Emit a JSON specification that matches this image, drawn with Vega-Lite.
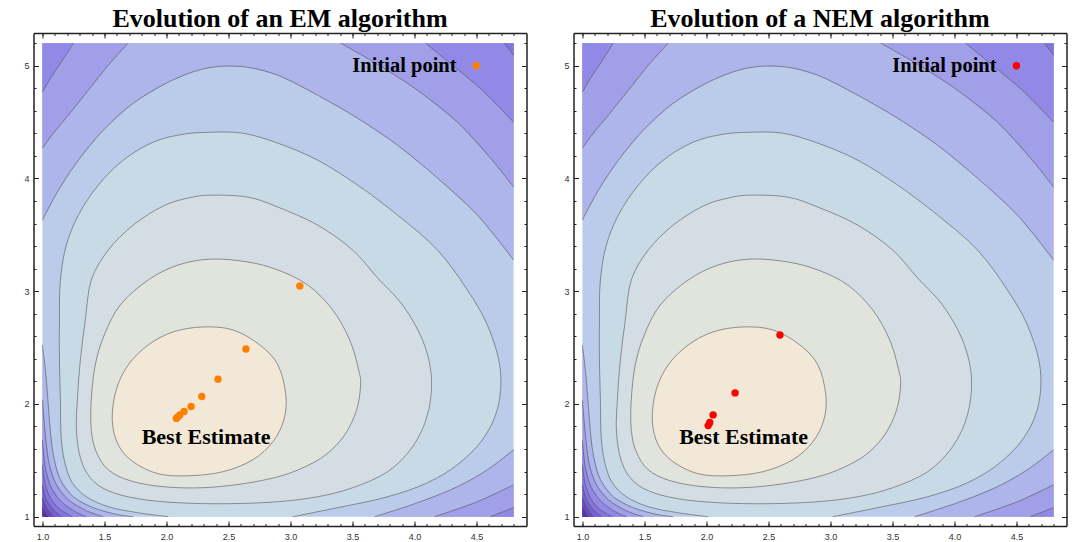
{
"$schema": "https://vega.github.io/schema/vega-lite/v6.json",
"padding": {"left": 23.5, "top": 6, "right": 0, "bottom": 0},
"background": "white",
"spacing": 36,
"config": {"view": {"stroke": null}, "axis": {"grid": false, "labelFlush": false, "title": null}},
"datasets": {
"cont": [
{"p":"00","i":0,"x":1,"y":1,"lv":4,"c":0},{"p":"00","i":1,"x":4.8,"y":1,"lv":4,"c":0},{"p":"00","i":2,"x":4.8,"y":5.2,"lv":4,"c":0},{"p":"00","i":3,"x":1,"y":5.2,"lv":4,"c":0},
{"p":"01","i":0,"x":2.014,"y":1.0,"lv":3,"c":1},{"p":"01","i":1,"x":1.772,"y":1.035,"lv":3,"c":1},{"p":"01","i":2,"x":1.531,"y":1.089,"lv":3,"c":1},{"p":"01","i":3,"x":1.354,"y":1.177,"lv":3,"c":1},{"p":"01","i":4,"x":1.241,"y":1.301,"lv":3,"c":1},{"p":"01","i":5,"x":1.185,"y":1.461,"lv":3,"c":1},{"p":"01","i":6,"x":1.153,"y":1.682,"lv":3,"c":1},{"p":"01","i":7,"x":1.145,"y":2.036,"lv":3,"c":1},{"p":"01","i":8,"x":1.137,"y":2.391,"lv":3,"c":1},{"p":"01","i":9,"x":1.137,"y":2.745,"lv":3,"c":1},{"p":"01","i":10,"x":1.145,"y":3.099,"lv":3,"c":1},{"p":"01","i":11,"x":1.193,"y":3.409,"lv":3,"c":1},{"p":"01","i":12,"x":1.29,"y":3.675,"lv":3,"c":1},{"p":"01","i":13,"x":1.451,"y":3.941,"lv":3,"c":1},{"p":"01","i":14,"x":1.652,"y":4.162,"lv":3,"c":1},{"p":"01","i":15,"x":1.893,"y":4.322,"lv":3,"c":1},{"p":"01","i":16,"x":2.134,"y":4.392,"lv":3,"c":1},{"p":"01","i":17,"x":2.36,"y":4.41,"lv":3,"c":1},{"p":"01","i":18,"x":2.617,"y":4.401,"lv":3,"c":1},{"p":"01","i":19,"x":2.899,"y":4.313,"lv":3,"c":1},{"p":"01","i":20,"x":3.22,"y":4.162,"lv":3,"c":1},{"p":"01","i":21,"x":3.542,"y":3.941,"lv":3,"c":1},{"p":"01","i":22,"x":3.864,"y":3.675,"lv":3,"c":1},{"p":"01","i":23,"x":4.186,"y":3.365,"lv":3,"c":1},{"p":"01","i":24,"x":4.427,"y":3.011,"lv":3,"c":1},{"p":"01","i":25,"x":4.588,"y":2.701,"lv":3,"c":1},{"p":"01","i":26,"x":4.693,"y":2.302,"lv":3,"c":1},{"p":"01","i":27,"x":4.668,"y":1.948,"lv":3,"c":1},{"p":"01","i":28,"x":4.548,"y":1.682,"lv":3,"c":1},{"p":"01","i":29,"x":4.347,"y":1.461,"lv":3,"c":1},{"p":"01","i":30,"x":4.105,"y":1.301,"lv":3,"c":1},{"p":"01","i":31,"x":3.784,"y":1.177,"lv":3,"c":1},{"p":"01","i":32,"x":3.381,"y":1.08,"lv":3,"c":1},{"p":"01","i":33,"x":3.019,"y":1.0,"lv":3,"c":1},
{"p":"02","i":0,"x":2.36,"y":3.852,"lv":2,"c":1},{"p":"02","i":1,"x":2.657,"y":3.834,"lv":2,"c":1},{"p":"02","i":2,"x":2.899,"y":3.746,"lv":2,"c":1},{"p":"02","i":3,"x":3.22,"y":3.586,"lv":2,"c":1},{"p":"02","i":4,"x":3.502,"y":3.365,"lv":2,"c":1},{"p":"02","i":5,"x":3.703,"y":3.117,"lv":2,"c":1},{"p":"02","i":6,"x":3.904,"y":2.878,"lv":2,"c":1},{"p":"02","i":7,"x":4.065,"y":2.568,"lv":2,"c":1},{"p":"02","i":8,"x":4.137,"y":2.24,"lv":2,"c":1},{"p":"02","i":9,"x":4.105,"y":1.903,"lv":2,"c":1},{"p":"02","i":10,"x":3.985,"y":1.62,"lv":2,"c":1},{"p":"02","i":11,"x":3.784,"y":1.399,"lv":2,"c":1},{"p":"02","i":12,"x":3.502,"y":1.257,"lv":2,"c":1},{"p":"02","i":13,"x":3.22,"y":1.177,"lv":2,"c":1},{"p":"02","i":14,"x":2.899,"y":1.133,"lv":2,"c":1},{"p":"02","i":15,"x":2.496,"y":1.115,"lv":2,"c":1},{"p":"02","i":16,"x":2.094,"y":1.124,"lv":2,"c":1},{"p":"02","i":17,"x":1.772,"y":1.159,"lv":2,"c":1},{"p":"02","i":18,"x":1.531,"y":1.23,"lv":2,"c":1},{"p":"02","i":19,"x":1.386,"y":1.345,"lv":2,"c":1},{"p":"02","i":20,"x":1.306,"y":1.523,"lv":2,"c":1},{"p":"02","i":21,"x":1.274,"y":1.771,"lv":2,"c":1},{"p":"02","i":22,"x":1.282,"y":2.036,"lv":2,"c":1},{"p":"02","i":23,"x":1.306,"y":2.391,"lv":2,"c":1},{"p":"02","i":24,"x":1.346,"y":2.745,"lv":2,"c":1},{"p":"02","i":25,"x":1.394,"y":3.099,"lv":2,"c":1},{"p":"02","i":26,"x":1.531,"y":3.365,"lv":2,"c":1},{"p":"02","i":27,"x":1.732,"y":3.586,"lv":2,"c":1},{"p":"02","i":28,"x":1.973,"y":3.755,"lv":2,"c":1},{"p":"02","i":29,"x":2.175,"y":3.826,"lv":2,"c":1},
{"p":"03","i":0,"x":2.36,"y":3.285,"lv":1,"c":1},{"p":"03","i":1,"x":2.657,"y":3.259,"lv":1,"c":1},{"p":"03","i":2,"x":2.899,"y":3.188,"lv":1,"c":1},{"p":"03","i":3,"x":3.14,"y":3.055,"lv":1,"c":1},{"p":"03","i":4,"x":3.341,"y":2.834,"lv":1,"c":1},{"p":"03","i":5,"x":3.478,"y":2.568,"lv":1,"c":1},{"p":"03","i":6,"x":3.55,"y":2.302,"lv":1,"c":1},{"p":"03","i":7,"x":3.566,"y":2.169,"lv":1,"c":1},{"p":"03","i":8,"x":3.534,"y":1.948,"lv":1,"c":1},{"p":"03","i":9,"x":3.438,"y":1.726,"lv":1,"c":1},{"p":"03","i":10,"x":3.285,"y":1.549,"lv":1,"c":1},{"p":"03","i":11,"x":3.1,"y":1.434,"lv":1,"c":1},{"p":"03","i":12,"x":2.899,"y":1.354,"lv":1,"c":1},{"p":"03","i":13,"x":2.617,"y":1.292,"lv":1,"c":1},{"p":"03","i":14,"x":2.295,"y":1.257,"lv":1,"c":1},{"p":"03","i":15,"x":1.973,"y":1.266,"lv":1,"c":1},{"p":"03","i":16,"x":1.708,"y":1.319,"lv":1,"c":1},{"p":"03","i":17,"x":1.531,"y":1.416,"lv":1,"c":1},{"p":"03","i":18,"x":1.434,"y":1.576,"lv":1,"c":1},{"p":"03","i":19,"x":1.394,"y":1.771,"lv":1,"c":1},{"p":"03","i":20,"x":1.394,"y":2.036,"lv":1,"c":1},{"p":"03","i":21,"x":1.426,"y":2.346,"lv":1,"c":1},{"p":"03","i":22,"x":1.499,"y":2.612,"lv":1,"c":1},{"p":"03","i":23,"x":1.628,"y":2.878,"lv":1,"c":1},{"p":"03","i":24,"x":1.853,"y":3.099,"lv":1,"c":1},{"p":"03","i":25,"x":2.094,"y":3.232,"lv":1,"c":1},
{"p":"04","i":0,"x":1.563,"y":1.859,"lv":0,"c":1},{"p":"04","i":1,"x":1.595,"y":2.125,"lv":0,"c":1},{"p":"04","i":2,"x":1.692,"y":2.346,"lv":0,"c":1},{"p":"04","i":3,"x":1.853,"y":2.523,"lv":0,"c":1},{"p":"04","i":4,"x":2.054,"y":2.639,"lv":0,"c":1},{"p":"04","i":5,"x":2.295,"y":2.683,"lv":0,"c":1},{"p":"04","i":6,"x":2.537,"y":2.656,"lv":0,"c":1},{"p":"04","i":7,"x":2.754,"y":2.523,"lv":0,"c":1},{"p":"04","i":8,"x":2.899,"y":2.346,"lv":0,"c":1},{"p":"04","i":9,"x":2.963,"y":2.081,"lv":0,"c":1},{"p":"04","i":10,"x":2.947,"y":1.859,"lv":0,"c":1},{"p":"04","i":11,"x":2.858,"y":1.664,"lv":0,"c":1},{"p":"04","i":12,"x":2.697,"y":1.505,"lv":0,"c":1},{"p":"04","i":13,"x":2.456,"y":1.399,"lv":0,"c":1},{"p":"04","i":14,"x":2.175,"y":1.363,"lv":0,"c":1},{"p":"04","i":15,"x":1.933,"y":1.381,"lv":0,"c":1},{"p":"04","i":16,"x":1.732,"y":1.487,"lv":0,"c":1},{"p":"04","i":17,"x":1.611,"y":1.638,"lv":0,"c":1},
{"p":"05","i":0,"x":1.0,"y":3.631,"lv":5,"c":1},{"p":"05","i":1,"x":1.129,"y":3.896,"lv":5,"c":1},{"p":"05","i":2,"x":1.29,"y":4.162,"lv":5,"c":1},{"p":"05","i":3,"x":1.491,"y":4.428,"lv":5,"c":1},{"p":"05","i":4,"x":1.732,"y":4.667,"lv":5,"c":1},{"p":"05","i":5,"x":2.014,"y":4.853,"lv":5,"c":1},{"p":"05","i":6,"x":2.255,"y":4.959,"lv":5,"c":1},{"p":"05","i":7,"x":2.44,"y":4.995,"lv":5,"c":1},{"p":"05","i":8,"x":2.657,"y":4.986,"lv":5,"c":1},{"p":"05","i":9,"x":2.899,"y":4.915,"lv":5,"c":1},{"p":"05","i":10,"x":3.22,"y":4.738,"lv":5,"c":1},{"p":"05","i":11,"x":3.542,"y":4.534,"lv":5,"c":1},{"p":"05","i":12,"x":3.864,"y":4.295,"lv":5,"c":1},{"p":"05","i":13,"x":4.186,"y":4.003,"lv":5,"c":1},{"p":"05","i":14,"x":4.508,"y":3.675,"lv":5,"c":1},{"p":"05","i":15,"x":4.8,"y":3.276,"lv":5,"c":1},{"p":"05","i":16,"x":4.8,"y":5.2,"lv":5,"c":0},{"p":"05","i":17,"x":1.0,"y":5.2,"lv":5,"c":0},
{"p":"06","i":0,"x":4.8,"y":1.593,"lv":5,"c":1},{"p":"06","i":1,"x":4.588,"y":1.416,"lv":5,"c":1},{"p":"06","i":2,"x":4.347,"y":1.266,"lv":5,"c":1},{"p":"06","i":3,"x":4.025,"y":1.124,"lv":5,"c":1},{"p":"06","i":4,"x":3.679,"y":1.0,"lv":5,"c":1},{"p":"06","i":5,"x":4.8,"y":1.0,"lv":5,"c":0},
{"p":"07","i":0,"x":1.0,"y":2.523,"lv":5,"c":1},{"p":"07","i":1,"x":1.032,"y":2.213,"lv":5,"c":1},{"p":"07","i":2,"x":1.056,"y":1.859,"lv":5,"c":1},{"p":"07","i":3,"x":1.088,"y":1.549,"lv":5,"c":1},{"p":"07","i":4,"x":1.145,"y":1.328,"lv":5,"c":1},{"p":"07","i":5,"x":1.249,"y":1.177,"lv":5,"c":1},{"p":"07","i":6,"x":1.41,"y":1.08,"lv":5,"c":1},{"p":"07","i":7,"x":1.611,"y":1.018,"lv":5,"c":1},{"p":"07","i":8,"x":1.732,"y":1.0,"lv":5,"c":1},{"p":"07","i":9,"x":1.0,"y":1.0,"lv":5,"c":0},
{"p":"08","i":0,"x":1.692,"y":5.2,"lv":6,"c":1},{"p":"08","i":1,"x":1.531,"y":5.004,"lv":6,"c":1},{"p":"08","i":2,"x":1.37,"y":4.782,"lv":6,"c":1},{"p":"08","i":3,"x":1.209,"y":4.561,"lv":6,"c":1},{"p":"08","i":4,"x":1.088,"y":4.401,"lv":6,"c":1},{"p":"08","i":5,"x":1.0,"y":4.268,"lv":6,"c":1},{"p":"08","i":6,"x":1.0,"y":5.2,"lv":6,"c":0},
{"p":"09","i":0,"x":3.405,"y":5.2,"lv":6,"c":1},{"p":"09","i":1,"x":3.703,"y":5.012,"lv":6,"c":1},{"p":"09","i":2,"x":4.025,"y":4.782,"lv":6,"c":1},{"p":"09","i":3,"x":4.347,"y":4.499,"lv":6,"c":1},{"p":"09","i":4,"x":4.628,"y":4.162,"lv":6,"c":1},{"p":"09","i":5,"x":4.8,"y":3.923,"lv":6,"c":1},{"p":"09","i":6,"x":4.8,"y":5.2,"lv":6,"c":0},
{"p":"10","i":0,"x":4.8,"y":1.283,"lv":6,"c":1},{"p":"10","i":1,"x":4.508,"y":1.133,"lv":6,"c":1},{"p":"10","i":2,"x":4.162,"y":1.0,"lv":6,"c":1},{"p":"10","i":3,"x":4.8,"y":1.0,"lv":6,"c":0},
{"p":"11","i":0,"x":1.0,"y":2.036,"lv":6,"c":1},{"p":"11","i":1,"x":1.024,"y":1.726,"lv":6,"c":1},{"p":"11","i":2,"x":1.056,"y":1.461,"lv":6,"c":1},{"p":"11","i":3,"x":1.113,"y":1.283,"lv":6,"c":1},{"p":"11","i":4,"x":1.209,"y":1.151,"lv":6,"c":1},{"p":"11","i":5,"x":1.354,"y":1.053,"lv":6,"c":1},{"p":"11","i":6,"x":1.491,"y":1.0,"lv":6,"c":1},{"p":"11","i":7,"x":1.0,"y":1.0,"lv":6,"c":0},
{"p":"12","i":0,"x":1.249,"y":5.2,"lv":7,"c":1},{"p":"12","i":1,"x":1.145,"y":5.021,"lv":7,"c":1},{"p":"12","i":2,"x":1.064,"y":4.888,"lv":7,"c":1},{"p":"12","i":3,"x":1.0,"y":4.764,"lv":7,"c":1},{"p":"12","i":4,"x":1.0,"y":5.2,"lv":7,"c":0},
{"p":"13","i":0,"x":4.089,"y":5.2,"lv":7,"c":1},{"p":"13","i":1,"x":4.307,"y":5.004,"lv":7,"c":1},{"p":"13","i":2,"x":4.548,"y":4.782,"lv":7,"c":1},{"p":"13","i":3,"x":4.8,"y":4.499,"lv":7,"c":1},{"p":"13","i":4,"x":4.8,"y":5.2,"lv":7,"c":0},
{"p":"14","i":0,"x":4.8,"y":1.08,"lv":7,"c":1},{"p":"14","i":1,"x":4.612,"y":1.0,"lv":7,"c":1},{"p":"14","i":2,"x":4.8,"y":1.0,"lv":7,"c":0},
{"p":"15","i":0,"x":1.0,"y":1.682,"lv":7,"c":1},{"p":"15","i":1,"x":1.024,"y":1.434,"lv":7,"c":1},{"p":"15","i":2,"x":1.072,"y":1.257,"lv":7,"c":1},{"p":"15","i":3,"x":1.153,"y":1.133,"lv":7,"c":1},{"p":"15","i":4,"x":1.265,"y":1.044,"lv":7,"c":1},{"p":"15","i":5,"x":1.354,"y":1.0,"lv":7,"c":1},{"p":"15","i":6,"x":1.0,"y":1.0,"lv":7,"c":0},
{"p":"16","i":0,"x":4.725,"y":5.2,"lv":8,"c":1},{"p":"16","i":1,"x":4.8,"y":5.092,"lv":8,"c":1},{"p":"16","i":2,"x":4.8,"y":5.2,"lv":8,"c":0},
{"p":"17","i":0,"x":1.0,"y":1.461,"lv":8,"c":1},{"p":"17","i":1,"x":1.024,"y":1.283,"lv":8,"c":1},{"p":"17","i":2,"x":1.072,"y":1.151,"lv":8,"c":1},{"p":"17","i":3,"x":1.145,"y":1.062,"lv":8,"c":1},{"p":"17","i":4,"x":1.241,"y":1.0,"lv":8,"c":1},{"p":"17","i":5,"x":1.0,"y":1.0,"lv":8,"c":0},
{"p":"18","i":0,"x":1.0,"y":1.283,"lv":9,"c":1},{"p":"18","i":1,"x":1.032,"y":1.151,"lv":9,"c":1},{"p":"18","i":2,"x":1.088,"y":1.062,"lv":9,"c":1},{"p":"18","i":3,"x":1.153,"y":1.0,"lv":9,"c":1},{"p":"18","i":4,"x":1.0,"y":1.0,"lv":9,"c":0},
{"p":"19","i":0,"x":1.0,"y":1.168,"lv":10,"c":1},{"p":"19","i":1,"x":1.032,"y":1.08,"lv":10,"c":1},{"p":"19","i":2,"x":1.088,"y":1.0,"lv":10,"c":1},{"p":"19","i":3,"x":1.0,"y":1.0,"lv":10,"c":0},
{"p":"20","i":0,"x":1.0,"y":1.08,"lv":11,"c":1},{"p":"20","i":1,"x":1.024,"y":1.035,"lv":11,"c":1},{"p":"20","i":2,"x":1.048,"y":1.0,"lv":11,"c":1},{"p":"20","i":3,"x":1.0,"y":1.0,"lv":11,"c":0}
],
"em": [{"x":4.5,"y":5.0},{"x":3.076,"y":3.046},{"x":2.641,"y":2.488},{"x":2.416,"y":2.22},{"x":2.285,"y":2.066},{"x":2.199,"y":1.977},{"x":2.142,"y":1.933},{"x":2.108,"y":1.903},{"x":2.089,"y":1.883},{"x":2.08,"y":1.872}],
"nem": [{"x":4.5,"y":5.0},{"x":2.593,"y":2.612},{"x":2.231,"y":2.098},{"x":2.054,"y":1.903},{"x":2.027,"y":1.835},{"x":2.014,"y":1.808}],
"labA": [{"t":"Initial point","x":4.34,"y":5.0,"k":"i"},{"t":"Best Estimate","x":2.32,"y":1.71,"k":"b"}],
"labB": [{"t":"Initial point","x":4.34,"y":5.0,"k":"i"},{"t":"Best Estimate","x":2.30,"y":1.71,"k":"b"}]
},
"hconcat": [
{
"width": 493, "height": 493,
"title": {"text": "Evolution of an EM algorithm", "font": "Liberation Serif", "fontSize": 26, "fontWeight": "bold", "color": "black", "offset": 0.5},
"resolve": {"axis": {"x": "independent", "y": "independent"}},
"layer": [
{"data": {"name": "cont"}, "transform": [{"filter": "datum.p == '00' || datum.lv >= 5"}], "mark": {"type": "line", "filled": true, "strokeWidth": 0, "interpolate": "linear"},
 "encoding": {
  "x": {"field": "x", "type": "quantitative", "scale": {"domain": [0.928, 4.904], "nice": false, "zero": false}, "axis": {"orient": "bottom", "values": [1,1.5,2,2.5,3,3.5,4,4.5], "format": ".1f", "tickSize": -5, "labelPadding": 11, "domainColor": "#222", "domainWidth": 1.5, "tickColor": "#222", "tickWidth": 1, "labelFont": "Liberation Sans", "labelFontSize": 9, "labelColor": "#333"}},
  "y": {"field": "y", "type": "quantitative", "scale": {"domain": [0.9175, 5.29], "nice": false, "zero": false}, "axis": {"orient": "left", "values": [1,2,3,4,5], "format": "d", "tickSize": -5, "labelPadding": 9.5, "domainColor": "#222", "domainWidth": 1.5, "tickColor": "#222", "tickWidth": 1, "labelFont": "Liberation Sans", "labelFontSize": 9, "labelColor": "#333"}},
  "color": {"field": "lv", "type": "ordinal", "scale": {"domain": [0,1,2,3,4,5,6,7,8,9,10,11], "range": ["#F2E8D8","#E1E3DD","#D5DDE4","#C9DAE7","#BBCBEA","#ADB5EA","#A09FE8","#9289E6","#8474DE","#765FD2","#6648C0","#5330AA"]}, "legend": null},
  "detail": {"field": "p"},
  "order": {"field": "i", "type": "quantitative"}
 }},
{"data": {"name": "cont"}, "transform": [{"filter": "datum.p == '01'"}], "mark": {"type": "line", "filled": true, "strokeWidth": 0, "interpolate": "catmull-rom"},
 "encoding": {
  "x": {"field": "x", "type": "quantitative", "axis": {"orient": "bottom", "values": [1,1.1,1.2,1.3,1.4,1.5,1.6,1.7,1.8,1.9,2,2.1,2.2,2.3,2.4,2.5,2.6,2.7,2.8,2.9,3,3.1,3.2,3.3,3.4,3.5,3.6,3.7,3.8,3.9,4,4.1,4.2,4.3,4.4,4.5,4.6,4.7,4.8], "tickSize": -2.5, "labels": false, "domain": false, "tickColor": "#222", "tickWidth": 1}},
  "y": {"field": "y", "type": "quantitative", "axis": {"orient": "left", "values": [1,1.2,1.4,1.6,1.8,2,2.2,2.4,2.6,2.8,3,3.2,3.4,3.6,3.8,4,4.2,4.4,4.6,4.8,5,5.2], "tickSize": -2.5, "labels": false, "domain": false, "tickColor": "#222", "tickWidth": 1}},
  "color": {"field": "lv", "type": "ordinal", "legend": null},
  "detail": {"field": "p"},
  "order": {"field": "i", "type": "quantitative"}
 }},
{"data": {"name": "cont"}, "transform": [{"filter": "datum.p == '02' || datum.p == '03' || datum.p == '04'"}], "mark": {"type": "line", "filled": true, "strokeWidth": 0, "interpolate": "cardinal-closed", "tension": 0},
 "encoding": {
  "x": {"field": "x", "type": "quantitative", "axis": {"orient": "top", "values": [1,1.5,2,2.5,3,3.5,4,4.5], "tickSize": -5, "labels": false, "domainColor": "#222", "domainWidth": 1.5, "tickColor": "#222", "tickWidth": 1}},
  "y": {"field": "y", "type": "quantitative", "axis": {"orient": "right", "values": [1,2,3,4,5], "tickSize": -5, "labels": false, "domainColor": "#222", "domainWidth": 1.5, "tickColor": "#222", "tickWidth": 1}},
  "color": {"field": "lv", "type": "ordinal", "legend": null},
  "detail": {"field": "p"},
  "order": {"field": "i", "type": "quantitative"}
 }},
{"data": {"name": "cont"}, "transform": [{"filter": "datum.p == '02' || datum.p == '03' || datum.p == '04'"}], "mark": {"type": "line", "stroke": "#555", "strokeWidth": 1, "opacity": 0.6, "interpolate": "cardinal-closed", "tension": 0},
 "encoding": {
  "x": {"field": "x", "type": "quantitative", "axis": {"orient": "top", "values": [1,1.1,1.2,1.3,1.4,1.5,1.6,1.7,1.8,1.9,2,2.1,2.2,2.3,2.4,2.5,2.6,2.7,2.8,2.9,3,3.1,3.2,3.3,3.4,3.5,3.6,3.7,3.8,3.9,4,4.1,4.2,4.3,4.4,4.5,4.6,4.7,4.8], "tickSize": -2.5, "labels": false, "domain": false, "tickColor": "#222", "tickWidth": 1}},
  "y": {"field": "y", "type": "quantitative", "axis": {"orient": "right", "values": [1,1.2,1.4,1.6,1.8,2,2.2,2.4,2.6,2.8,3,3.2,3.4,3.6,3.8,4,4.2,4.4,4.6,4.8,5,5.2], "tickSize": -2.5, "labels": false, "domain": false, "tickColor": "#222", "tickWidth": 1}},
  "detail": {"field": "p"},
  "order": {"field": "i", "type": "quantitative"}
 }},
{"data": {"name": "cont"}, "transform": [{"filter": "datum.c == 1 && (datum.p == '01' || datum.lv >= 5)"}], "mark": {"type": "line", "stroke": "#555", "strokeWidth": 1, "opacity": 0.6, "interpolate": "catmull-rom"},
 "encoding": {
  "x": {"field": "x", "type": "quantitative", "axis": null},
  "y": {"field": "y", "type": "quantitative", "axis": null},
  "detail": {"field": "p"},
  "order": {"field": "i", "type": "quantitative"}
 }},
{"data": {"name": "em"}, "mark": {"type": "circle", "size": 55, "color": "#ff8000", "opacity": 1},
 "encoding": {
  "x": {"field": "x", "type": "quantitative", "axis": null},
  "y": {"field": "y", "type": "quantitative", "axis": null}
 }},
{"data": {"name": "labA"}, "transform": [{"filter": "datum.k == 'i'"}], "mark": {"type": "text", "align": "right", "baseline": "middle", "font": "Liberation Serif", "fontSize": 20.5, "fontWeight": "bold", "color": "black"},
 "encoding": {
  "x": {"field": "x", "type": "quantitative", "axis": null},
  "y": {"field": "y", "type": "quantitative", "axis": null},
  "text": {"field": "t"}
 }},
{"data": {"name": "labA"}, "transform": [{"filter": "datum.k == 'b'"}], "mark": {"type": "text", "align": "center", "baseline": "middle", "font": "Liberation Serif", "fontSize": 22, "fontWeight": "bold", "color": "black"},
 "encoding": {
  "x": {"field": "x", "type": "quantitative", "axis": null},
  "y": {"field": "y", "type": "quantitative", "axis": null},
  "text": {"field": "t"}
 }}
]
},
{
"width": 493, "height": 493,
"title": {"text": "Evolution of a NEM algorithm", "font": "Liberation Serif", "fontSize": 26, "fontWeight": "bold", "color": "black", "offset": 0.5},
"resolve": {"axis": {"x": "independent", "y": "independent"}},
"layer": [
{"data": {"name": "cont"}, "transform": [{"filter": "datum.p == '00' || datum.lv >= 5"}], "mark": {"type": "line", "filled": true, "strokeWidth": 0, "interpolate": "linear"},
 "encoding": {
  "x": {"field": "x", "type": "quantitative", "scale": {"domain": [0.928, 4.904], "nice": false, "zero": false}, "axis": {"orient": "bottom", "values": [1,1.5,2,2.5,3,3.5,4,4.5], "format": ".1f", "tickSize": -5, "labelPadding": 11, "domainColor": "#222", "domainWidth": 1.5, "tickColor": "#222", "tickWidth": 1, "labelFont": "Liberation Sans", "labelFontSize": 9, "labelColor": "#333"}},
  "y": {"field": "y", "type": "quantitative", "scale": {"domain": [0.9175, 5.29], "nice": false, "zero": false}, "axis": {"orient": "left", "values": [1,2,3,4,5], "format": "d", "tickSize": -5, "labelPadding": 9.5, "domainColor": "#222", "domainWidth": 1.5, "tickColor": "#222", "tickWidth": 1, "labelFont": "Liberation Sans", "labelFontSize": 9, "labelColor": "#333"}},
  "color": {"field": "lv", "type": "ordinal", "scale": {"domain": [0,1,2,3,4,5,6,7,8,9,10,11], "range": ["#F2E8D8","#E1E3DD","#D5DDE4","#C9DAE7","#BBCBEA","#ADB5EA","#A09FE8","#9289E6","#8474DE","#765FD2","#6648C0","#5330AA"]}, "legend": null},
  "detail": {"field": "p"},
  "order": {"field": "i", "type": "quantitative"}
 }},
{"data": {"name": "cont"}, "transform": [{"filter": "datum.p == '01'"}], "mark": {"type": "line", "filled": true, "strokeWidth": 0, "interpolate": "catmull-rom"},
 "encoding": {
  "x": {"field": "x", "type": "quantitative", "axis": {"orient": "bottom", "values": [1,1.1,1.2,1.3,1.4,1.5,1.6,1.7,1.8,1.9,2,2.1,2.2,2.3,2.4,2.5,2.6,2.7,2.8,2.9,3,3.1,3.2,3.3,3.4,3.5,3.6,3.7,3.8,3.9,4,4.1,4.2,4.3,4.4,4.5,4.6,4.7,4.8], "tickSize": -2.5, "labels": false, "domain": false, "tickColor": "#222", "tickWidth": 1}},
  "y": {"field": "y", "type": "quantitative", "axis": {"orient": "left", "values": [1,1.2,1.4,1.6,1.8,2,2.2,2.4,2.6,2.8,3,3.2,3.4,3.6,3.8,4,4.2,4.4,4.6,4.8,5,5.2], "tickSize": -2.5, "labels": false, "domain": false, "tickColor": "#222", "tickWidth": 1}},
  "color": {"field": "lv", "type": "ordinal", "legend": null},
  "detail": {"field": "p"},
  "order": {"field": "i", "type": "quantitative"}
 }},
{"data": {"name": "cont"}, "transform": [{"filter": "datum.p == '02' || datum.p == '03' || datum.p == '04'"}], "mark": {"type": "line", "filled": true, "strokeWidth": 0, "interpolate": "cardinal-closed", "tension": 0},
 "encoding": {
  "x": {"field": "x", "type": "quantitative", "axis": {"orient": "top", "values": [1,1.5,2,2.5,3,3.5,4,4.5], "tickSize": -5, "labels": false, "domainColor": "#222", "domainWidth": 1.5, "tickColor": "#222", "tickWidth": 1}},
  "y": {"field": "y", "type": "quantitative", "axis": {"orient": "right", "values": [1,2,3,4,5], "tickSize": -5, "labels": false, "domainColor": "#222", "domainWidth": 1.5, "tickColor": "#222", "tickWidth": 1}},
  "color": {"field": "lv", "type": "ordinal", "legend": null},
  "detail": {"field": "p"},
  "order": {"field": "i", "type": "quantitative"}
 }},
{"data": {"name": "cont"}, "transform": [{"filter": "datum.p == '02' || datum.p == '03' || datum.p == '04'"}], "mark": {"type": "line", "stroke": "#555", "strokeWidth": 1, "opacity": 0.6, "interpolate": "cardinal-closed", "tension": 0},
 "encoding": {
  "x": {"field": "x", "type": "quantitative", "axis": {"orient": "top", "values": [1,1.1,1.2,1.3,1.4,1.5,1.6,1.7,1.8,1.9,2,2.1,2.2,2.3,2.4,2.5,2.6,2.7,2.8,2.9,3,3.1,3.2,3.3,3.4,3.5,3.6,3.7,3.8,3.9,4,4.1,4.2,4.3,4.4,4.5,4.6,4.7,4.8], "tickSize": -2.5, "labels": false, "domain": false, "tickColor": "#222", "tickWidth": 1}},
  "y": {"field": "y", "type": "quantitative", "axis": {"orient": "right", "values": [1,1.2,1.4,1.6,1.8,2,2.2,2.4,2.6,2.8,3,3.2,3.4,3.6,3.8,4,4.2,4.4,4.6,4.8,5,5.2], "tickSize": -2.5, "labels": false, "domain": false, "tickColor": "#222", "tickWidth": 1}},
  "detail": {"field": "p"},
  "order": {"field": "i", "type": "quantitative"}
 }},
{"data": {"name": "cont"}, "transform": [{"filter": "datum.c == 1 && (datum.p == '01' || datum.lv >= 5)"}], "mark": {"type": "line", "stroke": "#555", "strokeWidth": 1, "opacity": 0.6, "interpolate": "catmull-rom"},
 "encoding": {
  "x": {"field": "x", "type": "quantitative", "axis": null},
  "y": {"field": "y", "type": "quantitative", "axis": null},
  "detail": {"field": "p"},
  "order": {"field": "i", "type": "quantitative"}
 }},
{"data": {"name": "nem"}, "mark": {"type": "circle", "size": 55, "color": "#ff0000", "opacity": 1},
 "encoding": {
  "x": {"field": "x", "type": "quantitative", "axis": null},
  "y": {"field": "y", "type": "quantitative", "axis": null}
 }},
{"data": {"name": "labB"}, "transform": [{"filter": "datum.k == 'i'"}], "mark": {"type": "text", "align": "right", "baseline": "middle", "font": "Liberation Serif", "fontSize": 20.5, "fontWeight": "bold", "color": "black"},
 "encoding": {
  "x": {"field": "x", "type": "quantitative", "axis": null},
  "y": {"field": "y", "type": "quantitative", "axis": null},
  "text": {"field": "t"}
 }},
{"data": {"name": "labB"}, "transform": [{"filter": "datum.k == 'b'"}], "mark": {"type": "text", "align": "center", "baseline": "middle", "font": "Liberation Serif", "fontSize": 22, "fontWeight": "bold", "color": "black"},
 "encoding": {
  "x": {"field": "x", "type": "quantitative", "axis": null},
  "y": {"field": "y", "type": "quantitative", "axis": null},
  "text": {"field": "t"}
 }}
]
}
]
}
